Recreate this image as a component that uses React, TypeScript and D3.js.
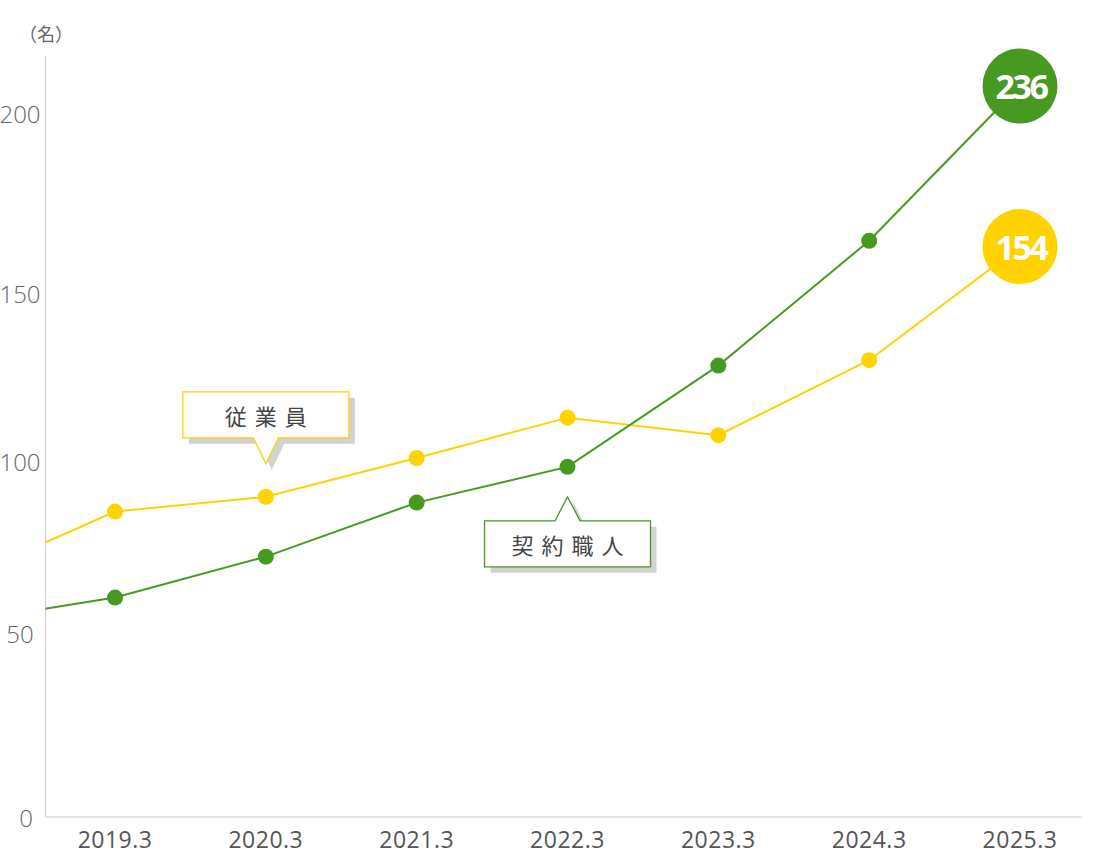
import * as React from 'react';
import * as d3 from 'd3';

// fiscal year-end points; 2018.3 only feeds the line stub left of the axis
const years = ['2018.3', '2019.3', '2020.3', '2021.3', '2022.3', '2023.3', '2024.3', '2025.3'];
const shokunin = [53.3, 60.3, 72.2, 87.9, 98.3, 128.4, 164.5, 207.5];
const jugyoin = [65.8, 85.3, 89.6, 100.9, 112.9, 107.7, 130, 162.9];
const latestLabels = ['236', '154'];
const yTicks = [0, 50, 100, 150, 200];

const W = 1111;
const H = 854;
const GREEN = '#459a1f';
const YELLOW = '#ffd200';
const TEXT = '#555';
const JP = '"Noto Sans CJK JP", sans-serif';
const NUM = '"Open Sans", sans-serif';

const x = d3.scalePoint<string>().domain(years).range([-35.8, 1020]);
// the artwork's ticks are not evenly spaced, so the scale is piecewise
const y = d3.scaleLinear().domain(yTicks).range([817, 633, 461, 293, 113]);
const axisLeftX = 45.5;
const axisTop = 56;
const axisRight = 1082;

function calloutPath(cx: number, tipY: number, w: number, h: number, up: boolean) {
  const pw = 12.5; // half width of the pointer base
  const ph = up ? 24 : 26;
  const l = cx - w / 2;
  const r = cx + w / 2;
  if (up) {
    const t = tipY + ph;
    const b = t + h;
    return `M${l},${t}L${cx - pw},${t}L${cx},${tipY}L${cx + pw},${t}L${r},${t}L${r},${b}L${l},${b}Z`;
  }
  const b = tipY - ph;
  const t = b - h;
  return `M${l},${t}L${r},${t}L${r},${b}L${cx + pw},${b}L${cx},${tipY}L${cx - pw},${b}L${l},${b}Z`;
}

interface CalloutProps {
  cx: number;
  tipY: number;
  up: boolean;
  color: string;
  label: string;
}

function Callout(props: CalloutProps) {
  const w = 166;
  const h = 46;
  const d = calloutPath(props.cx, props.tipY, w, h, props.up);
  const textY = props.up ? props.tipY + 24 + h / 2 : props.tipY - 26 - h / 2;
  return <g>
    <path d={d} transform="translate(6,6)" fill="#d2d2d2" />
    <path d={d} fill="#fff" stroke={props.color} strokeWidth={1.3} />
    <text x={props.cx + 4} y={textY} textAnchor="middle" dominantBaseline="central"
      fontFamily={JP} fontSize={22} fill="#444" letterSpacing={8}>{props.label}</text>
  </g>;
}

export default function App() {
  const line = d3.line<number>()
    .x((_, i) => x(years[i]) as number)
    .y((d) => y(d));

  const series = [
    {name: 'jugyoin', values: jugyoin, color: YELLOW, label: latestLabels[1]},
    {name: 'shokunin', values: shokunin, color: GREEN, label: latestLabels[0]},
  ];
  const last = years.length - 1;

  return <svg width={W} height={H} style={{position: 'absolute', left: 0, top: 0, background: '#fff'}}>
    <defs>
      <clipPath id="plot-clip">
        <rect x={axisLeftX} y={0} width={W - axisLeftX} height={H} />
      </clipPath>
    </defs>

    <text x={46} y={33} textAnchor="middle" dominantBaseline="central"
      fontFamily={JP} fontSize={18} fill="#666">（名）</text>

    {yTicks.map((t) =>
      <text key={t} x={t === 0 ? 26 : 20} y={y(t)} textAnchor="middle" dominantBaseline="central"
        fontFamily={NUM} fontWeight={300} fontSize={24} fill="#666">{t}</text>)}

    <line x1={axisLeftX} x2={axisLeftX} y1={axisTop} y2={y(0)} stroke="#ccc" strokeWidth={1} />
    <line x1={axisLeftX} x2={axisRight} y1={y(0)} y2={y(0)} stroke="#ccc" strokeWidth={1} />

    {years.slice(1).map((yr) =>
      <text key={yr} x={x(yr)} y={848} textAnchor="middle"
        fontFamily={NUM} fontSize={23} fill={TEXT} letterSpacing={0.5}>{yr}</text>)}

    <g clipPath="url(#plot-clip)">
      {series.map((s) =>
        <path key={s.name} d={line(s.values) || ''} fill="none" stroke={s.color} strokeWidth={2} />)}
    </g>

    {series.map((s) =>
      <g key={s.name + '-dots'}>
        {s.values.slice(1, last).map((v, i) =>
          <circle key={i} cx={x(years[i + 1])} cy={y(v)} r={8} fill={s.color} />)}
        <circle cx={x(years[last])} cy={y(s.values[last])} r={37.5} fill={s.color} />
        <text x={(x(years[last]) as number) + 1} y={y(s.values[last])} textAnchor="middle"
          dominantBaseline="central" fontFamily={NUM} fontWeight={700} fontSize={34}
          letterSpacing={-2.5} fill="#fff">{s.label}</text>
      </g>)}

    <Callout cx={x('2020.3') as number} tipY={y(jugyoin[2]) - 33} up={false} color={YELLOW} label="従業員" />
    <Callout cx={x('2022.3') as number} tipY={y(shokunin[4]) + 30} up={true} color={GREEN} label="契約職人" />
  </svg>;
}
